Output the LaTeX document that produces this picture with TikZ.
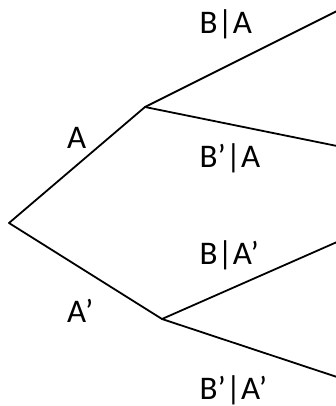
\documentclass[tikz,border=0pt]{standalone}
\usepackage{fontspec}
\setmainfont{Carlito}
\begin{document}
\begin{tikzpicture}[x=1pt,y=-1pt,
  branch/.style={line width=1.8pt,line cap=round,line join=round},
  lbl/.style={anchor=base west,inner sep=0pt,font=\fontsize{33}{40}\selectfont}]
\useasboundingbox (0,0) rectangle (336,406);
\coordinate (root) at (9,223);
\coordinate (a) at (145,107);
\coordinate (ap) at (162,319);
\coordinate (l1) at (337,11);
\coordinate (l2) at (337,146);
\coordinate (l3) at (337,242);
\coordinate (l4) at (337,377);
\draw[branch] (root) -- (a);
\draw[branch] (root) -- (ap);
\draw[branch] (a) -- (l1);
\draw[branch] (a) -- (l2);
\draw[branch] (ap) -- (l3);
\draw[branch] (ap) -- (l4);
\node[lbl] (la) at (67,149) {A};
\node[lbl] (lap) at (67,322) {A’};
\node[lbl] (lba) at (199.5,34) {B|A};
\node[lbl] (lbpa) at (199.5,167) {B’|A};
\node[lbl] (lbap) at (199.5,264) {B|A’};
\node[lbl] (lbpap) at (199.5,399) {B’|A’};
\end{tikzpicture}
\end{document}
